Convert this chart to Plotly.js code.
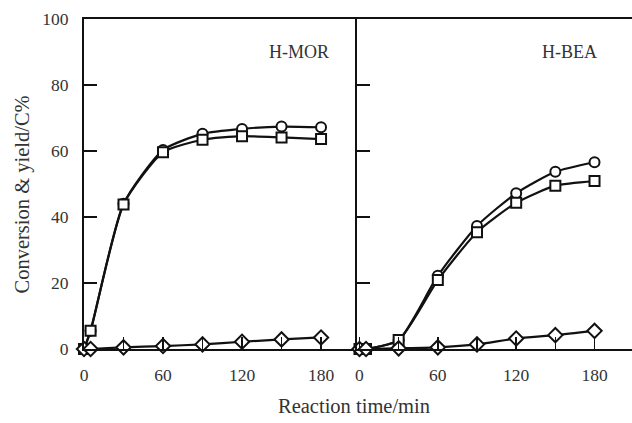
<!DOCTYPE html>
<html><head><meta charset="utf-8">
<script src="https://cdn.plot.ly/plotly-3.0.1.min.js"></script>
<style>html,body{margin:0;padding:0;background:#fff}#chart{width:632px;height:423px}</style>
</head><body><div id="chart"></div>
<script>
const time = [0, 5, 30, 60, 90, 120, 150, 180];
// H-MOR
const morConversion = [0, 5.5, 44, 60.3, 65.2, 66.7, 67.4, 67.2];
const morYield = [0, 5.5, 43.8, 59.6, 63.4, 64.5, 64.1, 63.6];
const morByproduct = [0, 0, 0.5, 0.9, 1.4, 2.2, 2.9, 3.5];
// H-BEA
const beaConversion = [0, 0, 2.7, 22.2, 37.3, 47.2, 53.7, 56.6];
const beaYield = [0, 0, 2.7, 20.9, 35.4, 44.3, 49.5, 50.9];
const beaByproduct = [0, 0, 0.2, 0.5, 1.4, 3.2, 4.2, 5.5];
const xTickVals = [0, 30, 60, 90, 120, 150, 180];
const xTickText = ['0', '', '60', '', '120', '', '180'];
const yTickVals = [0, 20, 40, 60, 80, 100];
const panelNames = ['H-MOR', 'H-BEA'];

function mk(y, sym, xa, ya) {
  return {x: time, y: y, xaxis: xa, yaxis: ya, type: 'scatter', mode: 'lines+markers',
    line: {color: '#111', width: 2.2, shape: 'spline', smoothing: 0.6},
    marker: {symbol: sym, size: sym === 'diamond' ? 11 : 10, color: '#fff',
      line: {color: '#111', width: 2}},
    cliponaxis: false, showlegend: false};
}
const data = [
  mk(morConversion, 'circle', 'x', 'y'), mk(morYield, 'square', 'x', 'y'), mk(morByproduct, 'diamond', 'x', 'y'),
  mk(beaConversion, 'circle', 'x2', 'y2'), mk(beaYield, 'square', 'x2', 'y2'), mk(beaByproduct, 'diamond', 'x2', 'y2')
];
const fam = 'Liberation Serif, Times New Roman, serif';
const txt = '#333';
const font = {family: fam, color: txt, size: 17.5};
const xBase = {tickvals: xTickVals, ticktext: xTickText, ticks: 'inside', ticklen: 12,
  tickwidth: 1.5, tickcolor: '#111', showline: true, linecolor: '#111', linewidth: 2, mirror: true,
  zeroline: false, showgrid: false, ticklabelstandoff: 9, tickfont: font, fixedrange: true};
const yBase = {range: [0, 100], tickvals: yTickVals, ticks: 'inside', ticklen: 13, tickwidth: 1.5,
  tickcolor: '#111', showline: true, linecolor: '#111', linewidth: 2, zeroline: false, showgrid: false,
  tickfont: font, fixedrange: true};
const split = (357 - 84) / 548;
const layout = {
  width: 632, height: 423, margin: {l: 84, r: 0, t: 19, b: 74},
  paper_bgcolor: '#fff', plot_bgcolor: '#fff', font: font,
  xaxis: Object.assign({}, xBase, {domain: [0, split], range: [0, 207.3], anchor: 'y'}),
  xaxis2: Object.assign({}, xBase, {domain: [split, 1], range: [-1.9, 208.7], anchor: 'y2'}),
  yaxis: Object.assign({}, yBase, {anchor: 'x', ticklabelstandoff: 10}),
  yaxis2: Object.assign({}, yBase, {anchor: 'x2', showticklabels: false}),
  annotations: [
    {text: panelNames[0], xref: 'x', yref: 'y', x: 163, y: 90, showarrow: false, font: {family: fam, size: 18, color: txt}},
    {text: panelNames[1], xref: 'x2', yref: 'y2', x: 161, y: 90, showarrow: false, font: {family: fam, size: 18, color: txt}},
    {text: 'Reaction time/min', xref: 'paper', yref: 'paper', x: (354 - 84) / 548, y: 0, yshift: -57, yanchor: 'middle', showarrow: false, font: {family: fam, size: 20.5, color: txt}},
    {text: 'Conversion &amp; yield/C%', textangle: -90, xref: 'paper', yref: 'paper', x: 0, xshift: -62.5, xanchor: 'center',
      y: (349 - 195) / 330, yanchor: 'middle', showarrow: false, font: {family: fam, size: 20.5, color: txt}}
  ]
};
Plotly.newPlot('chart', data, layout, {staticPlot: true});
</script></body></html>
